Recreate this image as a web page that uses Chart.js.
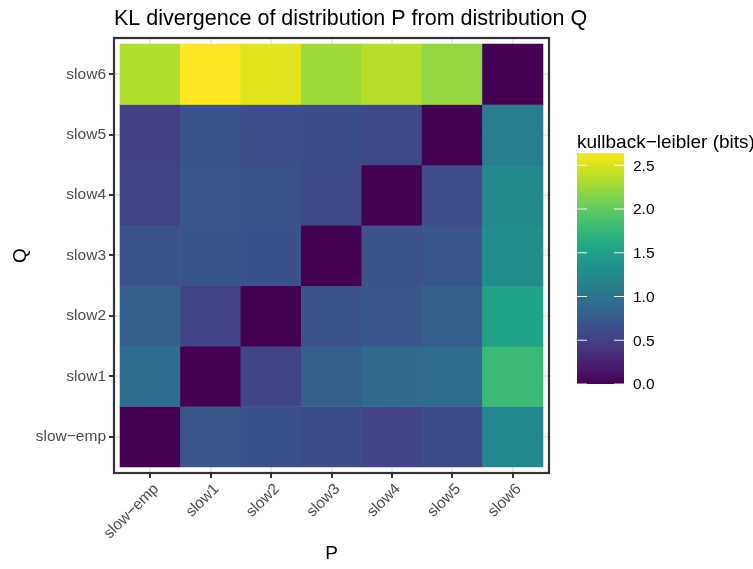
<!DOCTYPE html>
<html>
<head>
<meta charset="utf-8">
<title>KL divergence heatmap</title>
<script src="https://cdn.jsdelivr.net/npm/chart.js@4.4.1/dist/chart.umd.min.js"></script>
<style>
  html, body { margin: 0; padding: 0; background: #ffffff; }
  #wrap { width: 753px; height: 569px; }
</style>
</head>
<body>
<div id="wrap"><canvas id="kl" width="753" height="569"></canvas></div>
<script>
// Distributions compared (P along x, Q along y, bottom to top)
const pLabels = ['slow\u2212emp', 'slow1', 'slow2', 'slow3', 'slow4', 'slow5', 'slow6'];
const qLabels = ['slow\u2212emp', 'slow1', 'slow2', 'slow3', 'slow4', 'slow5', 'slow6'];

// KL divergence in bits, one row per Q, columns follow pLabels
const qSlowEmp = [0.00, 0.71, 0.65, 0.61, 0.53, 0.59, 1.21];
const qSlow1   = [0.94, 0.00, 0.53, 0.80, 0.90, 0.92, 1.79];
const qSlow2   = [0.82, 0.53, 0.00, 0.66, 0.72, 0.79, 1.53];
const qSlow3   = [0.66, 0.70, 0.65, 0.00, 0.66, 0.71, 1.29];
const qSlow4   = [0.53, 0.71, 0.66, 0.58, 0.00, 0.62, 1.24];
const qSlow5   = [0.50, 0.67, 0.62, 0.61, 0.57, 0.00, 1.11];
const qSlow6   = [2.33, 2.64, 2.53, 2.27, 2.36, 2.21, 0.00];

// Colour bar tick labels
const legendTicks = [0.0, 0.5, 1.0, 1.5, 2.0, 2.5];

const qRows = [qSlowEmp, qSlow1, qSlow2, qSlow3, qSlow4, qSlow5, qSlow6];
const klMin = 0;
const klMax = Math.max(...qRows.flat());

// viridis palette, 21 evenly spaced stops
const VIRIDIS = ['#440154', '#471365', '#482475', '#463480', '#414487', '#3b528b', '#355f8d',
  '#2f6c8e', '#2a788e', '#25848e', '#21908c', '#1e9c89', '#22a884', '#2fb47c', '#44bf70',
  '#5dc863', '#7ad151', '#9ad93c', '#bbdf27', '#dce318', '#fde725'];
const VIR_RGB = VIRIDIS.map(h => [1, 3, 5].map(k => parseInt(h.substr(k, 2), 16)));
function viridis(t) {
  t = Math.min(1, Math.max(0, t));
  const f = t * (VIR_RGB.length - 1);
  const i = Math.min(VIR_RGB.length - 2, Math.floor(f));
  const u = f - i;
  const a = VIR_RGB[i], b = VIR_RGB[i + 1];
  const c = a.map((v, k) => Math.round(v + (b[k] - v) * u));
  return 'rgb(' + c.join(',') + ')';
}
const fill = v => viridis((v - klMin) / (klMax - klMin));

// One tile per (P, Q) pair, as a floating bar spanning one y unit
const tiles = [];
qRows.forEach((row, j) => {
  row.forEach((v, i) => tiles.push({ x: i, y: [j - 0.5, j + 0.5], kl: v }));
});

const FONT = '"Liberation Sans", Arial, Helvetica, sans-serif';
const titleText = 'KL divergence of distribution P from distribution Q';
const legendTitle = 'kullback\u2212leibler (bits)';

const decor = {
  id: 'decor',
  beforeDraw(chart) {
    const ctx = chart.ctx;
    ctx.save();
    ctx.fillStyle = '#ffffff';
    ctx.fillRect(0, 0, chart.width, chart.height);
    ctx.restore();
  },
  afterDraw(chart) {
    const { ctx, chartArea: a } = chart;
    ctx.save();
    // panel border
    ctx.strokeStyle = '#333333';
    ctx.lineWidth = 2.2;
    ctx.strokeRect(a.left, a.top, a.right - a.left, a.bottom - a.top);

    // plot title
    ctx.fillStyle = '#000000';
    ctx.font = '21.5px ' + FONT;
    ctx.textAlign = 'left';
    ctx.textBaseline = 'alphabetic';
    ctx.fillText(titleText, a.left, 25);

    // colour bar legend
    const bx = 577, bw = 47, bTop = 153, bBot = 384;
    ctx.font = '19px ' + FONT;
    ctx.fillText(legendTitle, bx, 148);
    const span = bBot - bTop;
    const grad = ctx.createLinearGradient(0, bBot, 0, bTop);
    for (let k = 0; k <= 40; k++) {
      grad.addColorStop(k / 40, viridis(k / 40));
    }
    ctx.fillStyle = grad;
    ctx.fillRect(bx, bTop, bw, span);
    ctx.strokeStyle = 'rgba(255,255,255,0.9)';
    ctx.lineWidth = 1.1;
    ctx.font = '15.5px ' + FONT;
    ctx.fillStyle = '#000000';
    ctx.textBaseline = 'middle';
    legendTicks.forEach(t => {
      const y = bBot - (t - klMin) / (klMax - klMin) * span;
      ctx.beginPath();
      ctx.moveTo(bx, y); ctx.lineTo(bx + 10, y);
      ctx.moveTo(bx + bw - 10, y); ctx.lineTo(bx + bw, y);
      ctx.stroke();
      ctx.fillText(t.toFixed(1), 633, y + 1);
    });
    ctx.restore();
  }
};

const integerTicks = n => scale => { scale.ticks = Array.from({ length: n }, (_, i) => ({ value: i })); };

new Chart(document.getElementById('kl'), {
  type: 'bar',
  data: {
    datasets: [{
      data: tiles,
      backgroundColor: c => fill(c.raw.kl),
      borderWidth: 0,
      borderSkipped: false,
      barPercentage: 1,
      categoryPercentage: 1
    }]
  },
  options: {
    responsive: false,
    animation: false,
    events: [],
    layout: { padding: { top: 38, right: 204, bottom: 0, left: 0 } },
    plugins: { legend: { display: false }, tooltip: { enabled: false }, title: { display: false } },
    scales: {
      x: {
        type: 'linear',
        min: -0.6,
        max: 6.6,
        offset: false,
        afterBuildTicks: integerTicks(pLabels.length),
        afterFit: s => { s.height = 96; },
        grid: { color: '#ebebeb', lineWidth: 2, tickColor: '#333333', tickWidth: 2, tickLength: 5, offset: false },
        border: { display: false },
        ticks: {
          autoSkip: false,
          minRotation: 45,
          maxRotation: 45,
          padding: 2,
          labelOffset: 6,
          color: '#4d4d4d',
          font: { family: FONT, size: 15.5 },
          callback: v => pLabels[v]
        },
        title: { display: true, text: 'P', color: '#000000', font: { family: FONT, size: 19 }, padding: { top: 0, bottom: 3.5 } }
      },
      y: {
        type: 'linear',
        min: -0.6,
        max: 6.6,
        afterBuildTicks: integerTicks(qLabels.length),
        afterFit: s => { s.width = 114; },
        grid: { color: '#ebebeb', lineWidth: 2, tickColor: '#333333', tickWidth: 2, tickLength: 5 },
        border: { display: false },
        ticks: {
          autoSkip: false,
          padding: 3,
          color: '#4d4d4d',
          font: { family: FONT, size: 15.5 },
          callback: v => qLabels[v]
        },
        title: { display: true, text: 'Q', color: '#000000', font: { family: FONT, size: 19 }, padding: { top: 9, bottom: 0 } }
      }
    }
  },
  plugins: [decor]
});
</script>
</body>
</html>
